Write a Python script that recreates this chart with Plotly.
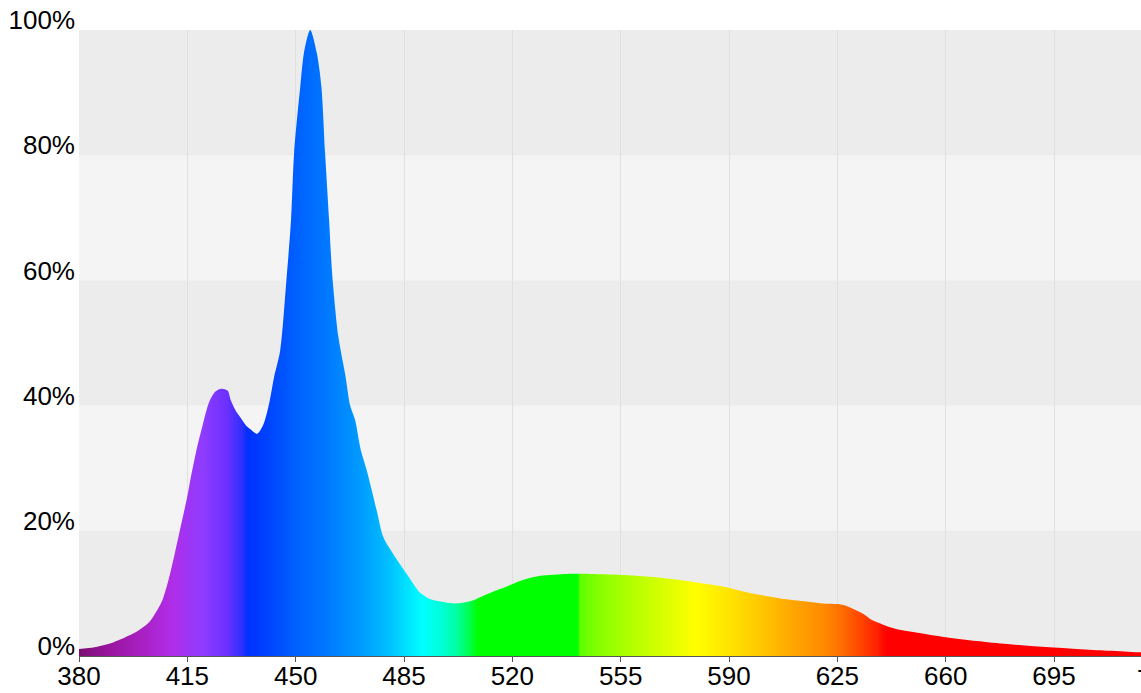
import plotly.graph_objects as go

# ---- data ----
wavelength = [380, 385, 390, 395, 398, 401, 403, 405, 407, 409, 411, 413, 415, 416, 418, 420,
              422, 424, 426, 428, 429, 430.5, 432, 434, 435.5, 437.5, 439.5, 441.5, 443, 445,
              447, 448.5, 449.5, 451.5, 452.7, 454.7, 456.8, 458.3, 459.5, 460.8, 461.8, 463.8,
              466, 467.6, 469.2, 471, 473, 476.2, 478.3, 481.5, 485.9, 490.2, 493.4, 496.7,
              501, 504, 507.4, 511, 515, 518.2, 522.5, 529, 537.7, 545, 552.6, 560, 568.7,
              579.7, 588, 596, 606.6, 615, 620, 625, 628, 631, 633.4, 636, 638.9, 642, 646,
              650, 660, 670, 680, 690, 700, 710, 720, 730]
intensity = [1.1, 1.4, 2.0, 3.0, 3.7, 4.7, 5.6, 7.1, 9.0, 12.3, 16.5, 21.0, 25.5, 28.2, 33.0, 37.0,
             40.5, 42.2, 42.7, 42.4, 40.9, 39.3, 38.2, 36.8, 36.2, 35.5, 36.9, 40.5, 44.5, 48.8,
             60.0, 69.7, 80.4, 91.0, 96.4, 100.0, 96.4, 91.0, 80.4, 69.7, 61.0, 51.0,
             45.0, 40.0, 37.7, 33.0, 29.6, 23.2, 19.0, 16.3, 13.1, 10.1, 9.1, 8.7,
             8.4, 8.5, 8.9, 9.7, 10.5, 11.1, 12.0, 12.8, 13.1, 13.1, 13.0, 12.8, 12.45,
             11.75, 11.1, 10.15, 9.2, 8.7, 8.4, 8.3, 8.0, 7.3, 6.7, 5.8, 5.2, 4.6, 4.1,
             3.8, 3.0, 2.4, 1.9, 1.5, 1.2, 0.9, 0.65, 0.5]

# spectrum colour stops
color_wl = [380, 390, 400, 410, 420, 428, 432.5, 434.5, 440, 450, 460, 470, 480, 487, 491,
            497, 502, 506, 509, 541, 542, 550, 560, 570, 579, 590, 600, 610, 620, 626, 632,
            638, 640, 641, 730]
color_hex = ["#7b0f72", "#9a14a0", "#a820c0", "#b02de8", "#8f3cff", "#6a30ff", "#3030ff",
             "#0030ff", "#0040ff", "#0060ff", "#0078ff", "#0098ff", "#00bfff", "#00e8ff",
             "#00ffff", "#00ffd8", "#00ffa0", "#00ff50", "#00ff00", "#00ff00", "#60ff00",
             "#90ff00", "#b8ff00", "#dcff00", "#ffff00", "#ffe400", "#ffc800", "#ffa800",
             "#ff8c00", "#ff7000", "#ff4800", "#ff2000", "#ff0800", "#ff0000", "#ff0000"]

x_ticks = [380, 415, 450, 485, 520, 555, 590, 625, 660, 695]
x_cut_tick = 730
y_ticks = [0, 20, 40, 60, 80, 100]
y_tick_text = ["0%", "20%", "40%", "60%", "80%", "100%"]
band_light = [(20, 40), (60, 80)]

X_MIN, X_MAX = 380, 723.1
g0, g1 = color_wl[0], color_wl[-1]
colorscale = [[(w - g0) / (g1 - g0), c] for w, c in zip(color_wl, color_hex)]

FONT = "Liberation Sans, Arial, sans-serif"

fig = go.Figure()
fig.add_trace(go.Scatter(
    x=wavelength, y=intensity, mode="lines",
    line=dict(width=0, color="rgba(0,0,0,0)", shape="spline", smoothing=0.8),
    fill="tozeroy",
    fillgradient=dict(type="horizontal", colorscale=colorscale, start=g0, stop=g1),
    hoverinfo="skip", showlegend=False,
))

for lo, hi in band_light:
    fig.add_shape(type="rect", xref="paper", yref="y", x0=0, x1=1, y0=lo, y1=hi,
                  fillcolor="#f4f4f4", line=dict(width=0), layer="below")

# the partly visible last tick label (beyond the visible range)
fig.add_annotation(x=(x_cut_tick - X_MIN) / (X_MAX - X_MIN), y=0, xref="paper", yref="paper",
                   text=str(x_cut_tick), showarrow=False,
                   xanchor="center", yanchor="top", yshift=-6, xshift=-4,
                   font=dict(family=FONT, size=26, color="#000"))

fig.update_layout(
    width=1141, height=693,
    margin=dict(l=79, r=0, t=30, b=37, pad=0, autoexpand=False),
    paper_bgcolor="white", plot_bgcolor="#ececec",
    font=dict(family=FONT, size=26, color="#000"),
    xaxis=dict(range=[X_MIN, X_MAX], tickvals=x_ticks, showgrid=True, gridcolor="#e0e0e0",
               gridwidth=1, zeroline=False, showline=True, linecolor="#555", linewidth=1,
               ticks="outside", ticklen=5, tickcolor="#555", tickwidth=1, automargin=False,
               tickfont=dict(family=FONT, size=26, color="#000"), ticklabelstandoff=-8),
    yaxis=dict(range=[0, 100], tickvals=y_ticks, ticktext=y_tick_text, showgrid=False,
               zeroline=False, showline=False, ticks="", automargin=False,
               tickfont=dict(family=FONT, size=26, color="#000"),
               ticklabelshift=-10, ticklabelstandoff=3),
)

fig.write_html("out.html", config={"displayModeBar": False},
               post_script="document.body.style.margin='0';document.body.style.overflow='hidden';")
